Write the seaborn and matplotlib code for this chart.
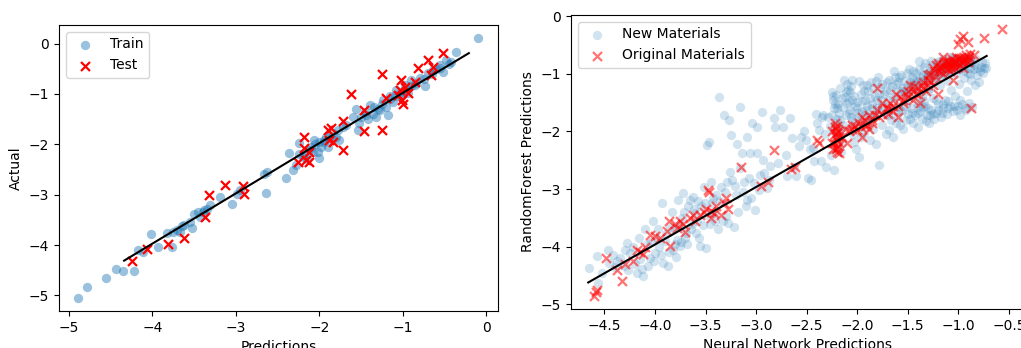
import matplotlib
matplotlib.use("Agg")
import matplotlib.pyplot as plt
import seaborn as sns
import numpy as np

# left panel: model predictions vs actual values
train_pts = [
    (-4.89, -5.05), (-4.78, -4.84), (-4.56, -4.66), (-4.44, -4.48), (-4.35, -4.52),
    (-4.22, -4.52), (-4.17, -4.10), (-4.11, -4.14), (-4.02, -3.79), (-3.93, -4.04),
    (-3.83, -3.77), (-3.77, -4.04), (-3.71, -3.71), (-3.67, -3.74), (-3.55, -3.54),
    (-3.53, -3.67), (-3.50, -3.38), (-3.43, -3.44), (-3.39, -3.34), (-3.35, -3.28),
    (-3.31, -3.21), (-3.19, -3.04), (-3.05, -3.18), (-2.99, -2.98), (-2.67, -2.58),
    (-2.63, -2.55), (-2.64, -2.96), (-2.40, -2.66), (-2.36, -2.17), (-2.32, -2.51),
    (-2.28, -2.41), (-2.24, -1.98), (-2.20, -2.25), (-2.12, -2.12), (-2.06, -1.92),
    (-2.02, -2.15), (-2.00, -2.28), (-1.98, -2.05), (-1.94, -1.92), (-1.90, -2.05),
    (-1.84, -1.78), (-1.80, -1.85), (-1.76, -1.92), (-1.60, -1.45), (-1.56, -1.29),
    (-1.54, -1.72), (-1.52, -1.58), (-1.44, -1.42), (-1.40, -1.22), (-1.36, -1.39),
    (-1.32, -1.45), (-1.28, -1.32), (-1.24, -1.12), (-1.20, -1.25), (-1.18, -1.42),
    (-1.16, -1.05), (-1.12, -1.15), (-1.08, -0.92), (-1.04, -1.05), (-0.98, -0.82),
    (-0.94, -0.99), (-0.90, -0.72), (-0.84, -0.79), (-0.80, -0.69), (-0.74, -0.84),
    (-0.70, -0.59), (-0.64, -0.52), (-0.56, -0.42), (-0.52, -0.56), (-0.48, -0.32),
    (-0.42, -0.36), (-0.36, -0.16), (-0.10, 0.11),
    (-2.10, -2.05), (-2.05, -2.00), (-1.95, -1.95), (-1.88, -1.85), (-1.85, -1.90),
    (-2.15, -2.30), (-1.00, -0.95), (-0.95, -0.90), (-1.05, -1.00), (-0.90, -0.85),
    (-0.85, -0.82), (-1.10, -1.05), (-1.15, -1.10), (-1.25, -1.20), (-1.30, -1.30),
    (-1.45, -1.35), (-1.50, -1.45), (-1.42, -1.50), (-1.35, -1.25), (-0.60, -0.50),
    (-0.65, -0.60), (-0.75, -0.70), (-0.55, -0.48), (-0.45, -0.40), (-3.45, -3.35),
    (-3.38, -3.30), (-3.62, -3.60), (-3.75, -3.75), (-3.65, -3.62), (-2.95, -2.90),
    (-2.25, -2.20), (-2.18, -2.20), (-2.08, -2.15), (-2.00, -1.95), (-1.92, -1.85),
    (-1.78, -1.72), (-1.72, -1.65), (-1.68, -1.62),
]
test_pts = [
    (-4.24, -4.32), (-4.06, -4.07), (-3.81, -3.97), (-3.62, -3.87), (-3.37, -3.44),
    (-3.32, -3.01), (-3.13, -2.80), (-2.91, -2.82), (-2.90, -2.98), (-2.26, -2.36),
    (-2.18, -1.86), (-2.18, -2.08), (-2.16, -2.31), (-2.12, -2.35), (-2.12, -2.15),
    (-1.90, -1.72), (-1.88, -1.92), (-1.86, -1.68), (-1.84, -1.95), (-1.72, -1.53),
    (-1.72, -2.12), (-1.62, -1.01), (-1.47, -1.32), (-1.47, -1.74), (-1.25, -0.60),
    (-1.25, -1.72), (-1.20, -1.09), (-1.04, -0.92), (-1.02, -0.72), (-1.01, -1.12),
    (-1.00, -1.19), (-0.98, -0.86), (-0.94, -0.99), (-0.86, -0.76), (-0.82, -0.49),
    (-0.70, -0.32), (-0.66, -0.62), (-0.64, -0.46), (-0.52, -0.19), (-1.06, -1.02),
]
fit_left_x = [-4.34, -0.21]
fit_left_y = [-4.31, -0.19]

# right panel: neural network vs random forest predictions
new_pts = [
    (-4.65, -4.37), (-4.57, -4.16), (-4.56, -4.63), (-4.52, -4.45), (-4.46, -4.05),
    (-4.45, -4.28), (-4.40, -4.35), (-4.35, -4.19), (-4.31, -4.34), (-4.28, -3.93),
    (-4.25, -4.11), (-4.22, -4.00), (-4.18, -4.45), (-4.15, -4.22), (-4.12, -4.51),
    (-4.10, -3.70), (-4.08, -3.95), (-4.07, -4.34), (-4.05, -4.20), (-4.02, -3.56),
    (-4.00, -4.11), (-3.98, -3.85), (-3.96, -4.00), (-3.93, -3.24), (-3.92, -4.28),
    (-3.90, -3.90), (-3.87, -4.34), (-3.85, -3.65), (-3.83, -3.39), (-3.82, -4.05),
    (-3.80, -3.95), (-3.78, -3.88), (-3.77, -3.19), (-3.75, -3.99), (-3.73, -3.50),
    (-3.72, -3.07), (-3.70, -3.85), (-3.69, -3.76), (-3.67, -3.30), (-3.65, -3.19),
    (-3.63, -3.60), (-3.62, -3.13), (-3.60, -3.42), (-3.59, -3.76), (-3.57, -3.20),
    (-3.55, -3.99), (-3.54, -3.30), (-3.52, -2.96), (-3.50, -4.02), (-3.49, -2.24),
    (-3.47, -2.18), (-3.46, -3.60), (-3.45, -2.87), (-3.44, -3.24), (-3.42, -3.42),
    (-3.40, -3.10), (-3.38, -3.70), (-3.37, -1.40), (-3.35, -2.96), (-3.33, -3.55),
    (-3.32, -1.72), (-3.30, -3.47), (-3.29, -2.87), (-3.27, -1.80), (-3.25, -2.06),
    (-3.24, -2.84), (-3.22, -3.65), (-3.20, -3.10), (-3.19, -2.21), (-3.16, -1.57),
    (-3.16, -2.64), (-3.14, -2.38), (-3.12, -2.87), (-3.10, -3.30), (-3.09, -2.09),
    (-3.09, -3.19), (-3.06, -2.38), (-3.04, -1.86), (-3.02, -2.90), (-3.01, -3.36),
    (-2.99, -1.92), (-2.99, -2.38), (-2.96, -2.75), (-2.94, -1.66), (-2.92, -2.72),
    (-2.89, -2.98), (-2.86, -2.60), (-2.82, -1.77), (-2.81, -1.92), (-2.78, -2.55),
    (-2.76, -1.63), (-2.73, -1.92), (-2.70, -2.40), (-2.69, -2.78), (-2.66, -1.77),
    (-2.64, -2.12), (-2.63, -2.61), (-2.61, -2.78), (-2.58, -2.25), (-2.56, -2.09),
    (-2.53, -2.00), (-2.51, -2.15), (-2.49, -2.81), (-2.47, -2.30), (-2.46, -2.84),
    (-2.44, -2.29), (-2.43, -2.52), (-2.41, -1.69), (-2.40, -1.85), (-2.38, -1.98),
    (-2.36, -2.52), (-2.35, -1.75), (-2.34, -1.71), (-2.32, -2.05), (-2.31, -2.61),
    (-2.29, -1.75), (-2.27, -1.90),
    (-4.42, -4.15), (-4.38, -4.25), (-4.30, -4.05), (-4.27, -4.40), (-4.20, -4.30),
    (-4.16, -3.85), (-4.13, -4.38), (-4.04, -3.92), (-4.01, -4.25), (-3.97, -3.70),
    (-3.94, -4.15), (-3.89, -3.78), (-3.86, -4.10), (-3.81, -3.70), (-3.79, -4.18),
    (-3.76, -3.62), (-3.74, -3.92), (-3.71, -3.40), (-3.68, -3.95), (-3.64, -3.70),
    (-3.61, -3.35), (-3.58, -3.55), (-3.56, -3.85), (-3.53, -3.62), (-3.51, -3.25),
    (-3.48, -3.45), (-3.43, -3.15), (-3.41, -3.55), (-3.36, -3.20), (-3.31, -3.05),
    (-3.28, -3.58), (-3.26, -2.70), (-3.21, -2.95), (-3.18, -3.40), (-3.13, -3.05),
    (-3.07, -2.80), (-3.05, -3.15), (-2.97, -3.02), (-2.93, -2.50), (-2.87, -2.85),
    (-2.25, -1.31), (-2.24, -1.45), (-2.23, -1.60), (-2.25, -1.72), (-2.22, -1.85),
    (-2.24, -2.00), (-2.21, -2.12), (-2.23, -2.25), (-2.26, -2.40), (-2.23, -2.67),
    (-2.21, -1.37), (-2.19, -1.52), (-2.18, -1.68), (-2.17, -1.80), (-2.16, -1.95),
    (-2.18, -2.08), (-2.15, -2.20), (-2.16, -2.35), (-2.13, -1.11), (-2.12, -1.40),
    (-2.14, -1.58), (-2.11, -1.72),
    (-2.10, -1.17), (-2.09, -1.28), (-2.08, -1.48), (-2.07, -1.31), (-2.07, -1.62),
    (-2.06, -1.75), (-2.05, -1.11), (-2.05, -1.90), (-2.04, -2.05), (-2.03, -2.18),
    (-2.02, -1.55), (-2.01, -2.30), (-2.00, -1.49), (-1.99, -1.68), (-1.98, -2.44),
    (-1.97, -1.82), (-1.96, -1.35), (-1.96, -2.10),
    (-1.94, -1.20), (-1.93, -2.03), (-1.92, -1.45), (-1.91, -1.62), (-1.90, -1.86),
    (-1.89, -1.30), (-1.88, -1.75), (-1.87, -2.15), (-1.86, -1.14), (-1.85, -1.52),
    (-1.84, -1.95), (-1.83, -1.72), (-1.82, -1.38), (-1.81, -2.22), (-1.80, -1.60),
    (-1.79, -1.05), (-1.78, -2.58), (-1.77, -1.23), (-1.76, -1.45), (-1.75, -1.88),
    (-1.74, -1.35), (-1.73, -1.70), (-1.72, -2.05), (-1.71, -1.15), (-1.70, -1.55),
    (-1.69, -1.98), (-1.68, -1.28), (-1.67, -1.80), (-1.66, -1.62), (-1.65, -2.10),
    (-1.64, -0.95), (-1.63, -1.42), (-1.62, -1.18), (-1.61, -1.75), (-1.60, -1.58),
    (-1.59, -1.05), (-1.58, -1.88), (-1.57, -1.30), (-1.56, -1.65), (-1.55, -1.95),
    (-1.54, -1.12), (-1.53, -1.48), (-1.52, -1.80), (-1.51, -1.22), (-1.50, -1.70),
    (-1.49, -0.92), (-1.48, -1.35), (-1.47, -1.60), (-1.46, -1.05), (-1.45, -1.85),
    (-1.44, -1.20), (-1.43, -1.72), (-1.42, -0.98), (-1.41, -1.50), (-1.40, -1.92),
    (-1.39, -1.12), (-1.38, -1.65), (-1.37, -1.30), (-1.36, -1.78), (-1.35, -1.02),
    (-1.34, -0.88), (-1.33, -1.55), (-1.32, -1.15), (-1.31, -1.72), (-1.30, -0.98),
    (-1.29, -1.85), (-1.28, -1.25), (-1.27, -1.62), (-1.26, -0.85), (-1.25, -1.42),
    (-1.24, -1.78), (-1.23, -1.08), (-1.22, -1.68), (-1.21, -0.95), (-1.20, -1.52),
    (-1.19, -0.78), (-1.18, -1.20), (-1.17, -1.75), (-1.16, -0.90), (-1.15, -1.60),
    (-1.14, -1.02), (-1.13, -1.45), (-1.12, -0.82), (-1.11, -1.70), (-1.10, -1.12),
    (-1.09, -0.95), (-1.08, -1.55), (-1.07, -1.28), (-1.06, -0.72), (-1.05, -1.65),
    (-1.04, -0.85), (-1.03, -1.38), (-1.02, -1.00), (-1.01, -1.62), (-1.00, -0.78),
    (-0.99, -1.18), (-0.98, -1.72), (-0.97, -0.92), (-0.96, -1.52), (-0.95, -0.70),
    (-0.94, -1.08), (-0.93, -1.60), (-0.92, -0.85), (-0.91, -1.30), (-0.90, -0.98),
    (-0.89, -1.50), (-0.88, -0.80), (-0.87, -1.10), (-0.86, -1.58), (-0.85, -0.92),
    (-0.84, -1.20), (-0.83, -0.75), (-0.82, -1.02), (-0.80, -1.15), (-0.78, -0.88),
    (-0.76, -0.98), (-0.74, -0.82), (-0.73, -0.90), (-1.39, -0.78),
    (-1.45, -1.10), (-1.42, -1.15), (-1.38, -1.05), (-1.35, -1.12), (-1.32, -1.00),
    (-1.30, -1.05), (-1.28, -0.95), (-1.25, -1.00), (-1.22, -0.90), (-1.20, -0.98),
    (-1.18, -0.88), (-1.15, -0.92), (-1.12, -0.85), (-1.10, -0.90), (-1.08, -0.82),
    (-1.05, -0.88), (-1.02, -0.80), (-1.00, -0.85), (-0.98, -0.78), (-0.95, -0.82),
    (-0.92, -0.76), (-0.90, -0.80), (-0.88, -0.90), (-0.85, -0.85), (-1.60, -1.30),
    (-1.55, -1.25), (-1.52, -1.35), (-1.48, -1.25), (-1.65, -1.40), (-1.70, -1.45),
    (-1.75, -1.55), (-1.80, -1.45), (-1.85, -1.60), (-1.90, -1.55), (-1.95, -1.65),
    (-2.00, -1.60), (-2.05, -1.45), (-2.10, -1.50), (-2.15, -1.42), (-2.20, -1.60),
    (-1.40, -1.68), (-1.30, -1.60), (-1.20, -1.62), (-1.10, -1.60), (-1.00, -1.55),
    (-1.25, -1.70), (-1.15, -1.52), (-1.35, -1.58),
    (-2.24, -1.38), (-2.22, -1.52), (-2.20, -1.78), (-2.17, -1.25), (-2.14, -1.88),
    (-2.11, -1.32), (-2.08, -1.68), (-2.06, -1.22), (-2.03, -1.38), (-2.00, -1.75),
    (-1.98, -1.12), (-1.95, -1.48), (-1.93, -1.30), (-1.90, -1.20), (-1.87, -1.42),
    (-1.84, -1.25), (-1.81, -1.12), (-1.78, -1.35), (-1.75, -1.18), (-1.72, -1.30),
    (-1.69, -1.10), (-1.66, -1.22), (-1.63, -1.05), (-1.60, -1.15), (-1.57, -1.02),
    (-1.54, -1.32), (-1.51, -0.98), (-1.48, -1.15), (-1.45, -0.95), (-1.42, -1.25),
    (-1.39, -0.92), (-1.36, -1.40), (-1.33, -0.82), (-1.30, -1.30), (-1.27, -0.78),
    (-1.24, -1.12), (-1.21, -0.82), (-1.18, -1.05), (-1.15, -0.75), (-1.12, -1.00),
    (-1.09, -0.70), (-1.06, -0.95), (-1.03, -0.72), (-1.00, -0.92), (-0.97, -0.80),
    (-0.94, -0.95), (-0.91, -0.70), (-0.88, -1.00), (-0.86, -0.78), (-0.82, -0.90),
    (-0.79, -0.95), (-0.77, -0.80), (-0.75, -0.90), (-1.58, -1.62), (-1.52, -1.55),
    (-1.46, -1.68), (-1.40, -1.58), (-1.34, -1.48), (-1.28, -1.72), (-1.22, -1.45),
    (-1.16, -1.68), (-1.10, -1.48), (-1.04, -1.55), (-0.98, -1.45), (-0.92, -1.62),
    (-1.70, -1.72), (-1.78, -1.65), (-1.86, -1.78), (-1.92, -1.72), (-1.98, -1.92),
    (-2.05, -1.82), (-1.62, -1.85), (-1.48, -1.78), (-1.32, -1.82),
]
orig_pts = [
    (-4.58, -4.78), (-4.60, -4.85), (-4.57, -4.75), (-4.48, -4.20), (-4.38, -4.40),
    (-4.33, -4.60), (-4.30, -4.30), (-4.22, -4.25), (-4.18, -4.05), (-4.12, -4.12),
    (-4.10, -4.00), (-4.05, -3.80), (-4.00, -3.82), (-3.95, -3.85), (-3.88, -3.72),
    (-3.86, -3.55), (-3.85, -3.98), (-3.80, -3.60), (-3.75, -3.55), (-3.72, -3.60),
    (-3.70, -3.75), (-3.65, -3.50), (-3.60, -3.55), (-3.55, -3.45), (-3.52, -3.40),
    (-3.50, -3.35), (-3.48, -3.02), (-3.47, -3.05), (-3.45, -3.38), (-3.42, -3.42),
    (-3.40, -3.30), (-3.35, -3.45), (-3.30, -3.15), (-3.28, -3.35), (-3.15, -2.62),
    (-2.82, -2.32), (-2.95, -2.95), (-2.88, -2.88), (-2.65, -2.65), (-2.62, -2.62),
    (-2.40, -2.15), (-2.38, -2.20),
    (-2.22, -1.85), (-2.20, -1.90), (-2.21, -1.95), (-2.19, -2.00), (-2.22, -2.05),
    (-2.18, -2.10), (-2.20, -2.15), (-2.23, -2.20), (-2.19, -2.25), (-2.21, -2.30),
    (-2.20, -2.35), (-2.18, -2.38),
    (-2.10, -2.20), (-2.05, -1.95), (-2.02, -1.90), (-1.98, -1.85), (-1.95, -2.10),
    (-1.92, -1.90), (-1.90, -1.88), (-1.88, -1.95), (-1.85, -1.80), (-1.82, -1.72),
    (-1.80, -1.25), (-1.78, -1.75), (-1.75, -1.50), (-1.72, -1.60), (-1.70, -1.70),
    (-1.65, -1.65), (-1.62, -1.35), (-1.60, -1.55), (-1.55, -1.45), (-1.50, -1.30),
    (-1.48, -1.20), (-1.45, -1.45), (-1.42, -1.35), (-1.40, -1.25), (-1.38, -1.50),
    (-1.35, -1.15), (-1.32, -1.30), (-1.30, -1.10), (-1.28, -1.00), (-1.25, -1.20),
    (-1.22, -1.05), (-1.20, -0.95), (-1.18, -0.88), (-1.15, -1.00), (-1.12, -0.90),
    (-1.10, -0.82), (-1.08, -0.95), (-1.05, -0.80), (-1.03, -0.90), (-1.00, -0.75),
    (-0.98, -0.85), (-0.95, -0.78), (-0.93, -0.72), (-0.90, -0.80), (-0.88, -0.65),
    (-0.87, -1.60), (-0.98, -0.40), (-1.00, -0.48), (-0.95, -0.35), (-0.90, -0.45),
    (-0.75, -0.38), (-0.57, -0.22), (-0.85, -0.68), (-1.15, -0.70), (-1.20, -1.35),
    (-1.05, -1.10), (-1.60, -1.75),
    (-1.25, -0.90), (-1.22, -0.85), (-1.18, -0.95), (-1.15, -0.85), (-1.12, -0.78),
    (-1.10, -0.92), (-1.08, -0.85), (-1.06, -0.75), (-1.04, -0.82), (-1.02, -0.70),
    (-1.00, -0.88), (-0.97, -0.72), (-0.95, -0.90), (-0.92, -0.68), (-0.90, -0.72),
    (-1.30, -1.20), (-1.35, -1.25), (-1.40, -1.35), (-1.45, -1.30), (-1.50, -1.40),
    (-1.55, -1.50), (-1.65, -1.55), (-1.70, -1.60), (-1.75, -1.70), (-1.85, -1.85),
    (-1.92, -1.80), (-2.00, -1.98), (-2.08, -2.00), (-2.12, -1.95), (-2.15, -2.10),
    (-1.95, -1.75), (-2.25, -2.00), (-2.25, -2.20), (-2.24, -2.30),
    (-1.24, -0.95), (-1.20, -0.82), (-1.17, -0.90), (-1.14, -0.80), (-1.11, -0.85),
    (-1.09, -0.78), (-1.07, -0.90), (-1.05, -0.85), (-1.03, -0.78), (-1.01, -0.82),
    (-0.99, -0.72), (-0.96, -0.80), (-0.94, -0.75), (-0.91, -0.78), (-0.89, -0.70),
    (-1.30, -1.02), (-1.28, -1.12), (-1.36, -1.20), (-1.44, -1.22), (-1.52, -1.35),
    (-1.58, -1.40), (-1.68, -1.50), (-1.80, -1.62), (-1.88, -1.72), (-1.96, -1.92),
    (-2.05, -1.88), (-2.22, -1.92), (-2.20, -2.02), (-2.21, -2.10), (-2.19, -2.18),
    (-2.20, -2.28), (-3.62, -3.45), (-3.78, -3.68), (-4.15, -4.10), (-3.45, -3.50),
    (-3.32, -3.25),
]
fit_right_x = [-4.66, -0.72]
fit_right_y = [-4.62, -0.69]

train_x, train_y = zip(*train_pts)
test_x, test_y = zip(*test_pts)
new_x, new_y = zip(*new_pts)
orig_x, orig_y = zip(*orig_pts)

fig = plt.figure(figsize=(10.21, 3.48), dpi=100)
ax1 = fig.add_axes([0.0578, 0.1063, 0.430, 0.822])
ax2 = fig.add_axes([0.5593, 0.1121, 0.4437, 0.8448])

sns.scatterplot(x=list(train_x), y=list(train_y), ax=ax1, color='#1f77b4',
                alpha=0.45, s=45, linewidth=0, label='Train')
sns.scatterplot(x=list(test_x), y=list(test_y), ax=ax1, color='red',
                marker='x', s=42, linewidth=1.6, label='Test')
sns.lineplot(x=fit_left_x, y=fit_left_y, ax=ax1, color='k', linewidth=1.5)
ax1.set_xlim(-5.12, 0.14)
ax1.set_ylim(-5.31, 0.37)
ax1.set_xlabel('Predictions')
ax1.set_ylabel('Actual')
ax1.legend(loc='upper left')

sns.scatterplot(x=list(new_x), y=list(new_y), ax=ax2, color='#1f77b4',
                alpha=0.2, s=45, linewidth=0, label='New Materials')
sns.scatterplot(x=list(orig_x), y=list(orig_y), ax=ax2, color='red',
                marker='x', s=42, linewidth=1.6, alpha=0.55, label='Original Materials')
sns.lineplot(x=fit_right_x, y=fit_right_y, ax=ax2, color='k', linewidth=1.5)
ax2.set_xlim(-4.83, -0.35)
ax2.set_ylim(-5.08, 0.02)
ax2.set_xticks(np.arange(-4.5, -0.4, 0.5))
ax2.set_xlabel('Neural Network Predictions')
ax2.set_ylabel('RandomForest Predictions')
ax2.legend(loc='upper left')

fig.savefig('out.png', dpi=100)
